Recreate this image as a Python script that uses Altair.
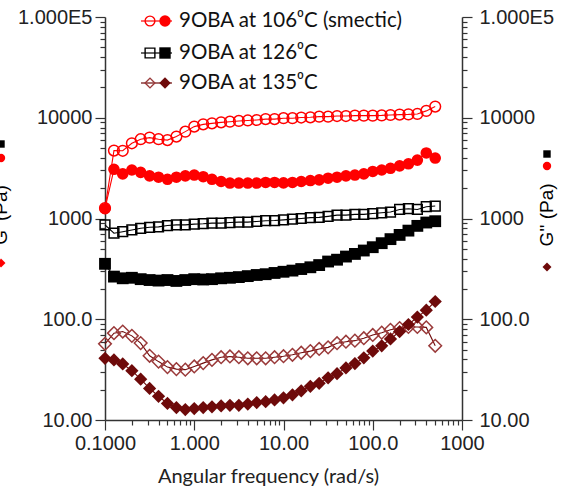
import altair as alt
import pandas as pd

# Angular frequency (rad/s)
freq = [0.1, 0.126, 0.158, 0.2, 0.251, 0.316, 0.398, 0.501, 0.631, 0.794,
        1.0, 1.26, 1.58, 2.0, 2.51, 3.16, 3.98, 5.01, 6.31, 7.94,
        10.0, 12.6, 15.8, 20.0, 25.1, 31.6, 39.8, 50.1, 63.1, 79.4,
        100.0, 126.0, 158.0, 200.0, 251.0, 316.0, 398.0, 501.0]

# 106 C (smectic)
g1_106 = [1270, 4720, 4700, 5580, 6120, 6350, 6120, 6000, 6500, 7280,
          8170, 8600, 8800, 9000, 9140, 9300, 9400, 9500, 9700, 9700,
          9900, 9900, 10050, 10100, 10250, 10250, 10400, 10400, 10500, 10500,
          10500, 10550, 10650, 10750, 10800, 10900, 11700, 12900]
g2_106 = [1250, 3080, 2770, 3030, 2870, 2650, 2570, 2450, 2570, 2650,
          2700, 2600, 2450, 2330, 2250, 2250, 2250, 2250, 2280, 2280,
          2260, 2280, 2330, 2380, 2420, 2510, 2570, 2650, 2700, 2770,
          2930, 3030, 3150, 3330, 3490, 3800, 4470, 3980]
# 126 C
g1_126 = [865, 714, 740, 770, 800, 818, 825, 851, 865, 865,
          880, 888, 900, 900, 912, 920, 920, 935, 950, 955,
          970, 985, 1000, 1020, 1025, 1050, 1080, 1080, 1100, 1100,
          1120, 1140, 1160, 1230, 1250, 1230, 1310, 1330]
g2_126 = [355, 265, 255, 258, 250, 245, 242, 245, 240, 245,
          250, 248, 250, 255, 258, 262, 268, 275, 280, 288,
          296, 304, 315, 328, 345, 374, 390, 419, 445, 481,
          519, 569, 624, 687, 758, 845, 912, 940]
# 135 C
g1_135 = [57, 72.8, 75.5, 68.4, 58, 43.4, 38, 33.5, 32, 31.6,
          34, 36.7, 39.5, 42, 42.7, 42, 41, 41, 41, 42,
          43, 44.4, 46.5, 48.3, 50.7, 52.6, 57.8, 59.9, 61.3, 64.8,
          69.8, 73.6, 78.6, 81.8, 83.8, 83.8, 83, 54.5]
g2_135 = [41, 39.5, 36, 30.9, 25.4, 20.6, 17.2, 14.6, 13.3, 12.7,
          13, 13.3, 13.5, 13.8, 14, 14, 14.4, 14.9, 15.2, 15.8,
          16.6, 17.8, 19.5, 21.6, 23.1, 26.2, 28.8, 32.9, 36.3, 41.4,
          48.3, 54.5, 63.7, 75.5, 88.7, 105, 123, 150]

legend_labels = ["9OBA at 106\u2070C (smectic)", "9OBA at 126\u2070C", "9OBA at 135\u2070C"]

x_tick_values = sorted(set([round(m * d, 6) for d in [0.1, 1, 10, 100] for m in range(1, 10)] + [1000]))
y_tick_values = sorted(set([round(m * d, 6) for d in [10, 100, 1000, 10000] for m in range(1, 10)] + [100000]))

RED = "#FF0000"
BLK = "#000000"
MAROON = "#6E0A0A"
MAROON_OPEN = "#9A3A3A"

series = [
    ("g1_106", g1_106, "circle", RED, False, RED, 115),
    ("g2_106", g2_106, "circle", RED, True, RED, 135),
    ("g1_126", g1_126, "square", BLK, False, BLK, 95),
    ("g2_126", g2_126, "square", BLK, True, BLK, 140),
    ("g1_135", g1_135, "diamond", MAROON_OPEN, False, MAROON, 160),
    ("g2_135", g2_135, "diamond", MAROON, True, MAROON, 175),
]

rows = []
for name, vals, *_ in series:
    for f, v in zip(freq, vals):
        rows.append({"freq": f, "value": v, "series": name})
df = pd.DataFrame(rows)

W, H = 357, 403
FONT_TICK = "Liberation Sans"
FONT_TXT = "Lato"

major_x_test = "indexof([0.1,1,10,100,1000], datum.value) >= 0"
major_y_test = "indexof([10,100,1000,10000,100000], datum.value) >= 0"

x_axis = alt.Axis(
    values=x_tick_values,
    labelExpr="datum.value==0.1?'0.1000':datum.value==1?'1.000':datum.value==10?'10.00':datum.value==100?'100.0':datum.value==1000?'1000':''",
    tickSize={"condition": {"test": major_x_test, "value": 10}, "value": 5},
    labelOverlap=False, labelFlush=False, labelBound=False,
    grid=False, title="Angular frequency (rad/s)",
    titleFont=FONT_TXT, titleFontSize=20, titleFontWeight="normal", titleColor="#222",
    titleX=163, titleY=62, titleBaseline="alphabetic", titleAlign="center",
    labelFont=FONT_TICK, labelFontSize=20, labelColor="#222", labelPadding=3,
    domainColor="#333", domainWidth=1.5, tickColor="#333", tickWidth=1.2,
)

ylabel_expr = "datum.value==100000?'1.000E5':datum.value==10000?'10000':datum.value==1000?'1000':datum.value==100?'100.0':datum.value==10?'10.00':''"

def y_axis(orient):
    return alt.Axis(
        orient=orient, values=y_tick_values, labelExpr=ylabel_expr,
        tickSize={"condition": {"test": major_y_test, "value": 10}, "value": 5},
        labelOverlap=False, labelFlush=False, labelBound=False, grid=False, title=None,
        labelFont=FONT_TICK, labelFontSize=20, labelColor="#222",
        labelPadding=3 if orient == "left" else 7,
        domainColor="#333", domainWidth=1.5, tickColor="#333", tickWidth=1.2,
    )

xscale = alt.Scale(type="log", domain=[0.1, 1000], nice=False)
yscale = alt.Scale(type="log", domain=[10, 100000], nice=False)

base = alt.Chart(df)
layers = []
for name, vals, shape, color, filled, linecolor, size in series:
    sub = base.transform_filter(alt.datum.series == name)
    layers.append(sub.mark_line(color=linecolor, strokeWidth=1.1).encode(
        x=alt.X("freq:Q", scale=xscale, axis=x_axis),
        y=alt.Y("value:Q", scale=yscale, axis=y_axis("left"))))
    if filled:
        pm = sub.mark_point(shape=shape, filled=True, color=color, size=size, opacity=1)
    else:
        pm = sub.mark_point(shape=shape, filled=False, color=color, size=size, strokeWidth=1.5, opacity=1)
    layers.append(pm.encode(x=alt.X("freq:Q", scale=xscale, axis=x_axis),
                            y=alt.Y("value:Q", scale=yscale, axis=y_axis("left"))))
main = alt.layer(*layers)

right = base.mark_point(opacity=0).encode(
    x=alt.X("freq:Q", scale=xscale, axis=x_axis),
    y=alt.Y("value:Q", scale=yscale, axis=y_axis("right")))

one = pd.DataFrame({"k": [0]})
leg_layers = []
leg_rows = [
    (legend_labels[0], "circle", RED, RED, RED, 4),
    (legend_labels[1], "square", BLK, BLK, BLK, 36),
    (legend_labels[2], "diamond", MAROON_OPEN, MAROON, MAROON, 66),
]
for label, shape, ocol, fcol, lcol, yy in leg_rows:
    c = alt.Chart(one)
    leg_layers.append(c.mark_rule(color=lcol, strokeWidth=1.2).encode(
        x=alt.value(36), x2=alt.value(67), y=alt.value(yy)))
    leg_layers.append(c.mark_point(shape=shape, filled=False, color=ocol, size=95, strokeWidth=1.4, opacity=1).encode(
        x=alt.value(45), y=alt.value(yy)))
    leg_layers.append(c.mark_point(shape=shape, filled=True, color=fcol, size=130, opacity=1).encode(
        x=alt.value(60), y=alt.value(yy)))
    leg_layers.append(c.mark_text(text=label, align="left", baseline="middle", font=FONT_TXT,
                                  fontSize=20.5, color="#111").encode(x=alt.value(74), y=alt.value(yy)))

def side_title(xpos, label, cols, ys):
    out = []
    c = alt.Chart(one)
    out.append(c.mark_point(shape="diamond", filled=True, color=cols[0], size=80, opacity=1).encode(
        x=alt.value(xpos), y=alt.value(ys[0])))
    out.append(c.mark_text(text=label, angle=270, align="center", baseline="middle",
                           font=FONT_TICK, fontSize=19, color=BLK).encode(
        x=alt.value(xpos), y=alt.value(ys[1])))
    out.append(c.mark_point(shape="circle", filled=True, color=cols[1], size=70, opacity=1).encode(
        x=alt.value(xpos), y=alt.value(ys[2])))
    out.append(c.mark_point(shape="square", filled=True, color=cols[2], size=55, opacity=1).encode(
        x=alt.value(xpos), y=alt.value(ys[3])))
    return out

right_title = side_title(442, "G'' (Pa)", [MAROON, RED, BLK], [250, 198, 149, 137])
left_title = side_title(-104, "G' (Pa)", [RED, RED, BLK], [246, 198, 141, 127])

chart = alt.layer(main, right, *leg_layers, *right_title, *left_title).resolve_scale(
    y="independent"
).properties(
    width=W, height=H,
    autosize=alt.AutoSizeParams(type="none"),
    padding={"left": 105, "top": 17, "right": 106, "bottom": 72},
    background="white",
).configure_view(stroke=None)

chart.save("out.html", embed_options={"renderer": "svg", "actions": False})
